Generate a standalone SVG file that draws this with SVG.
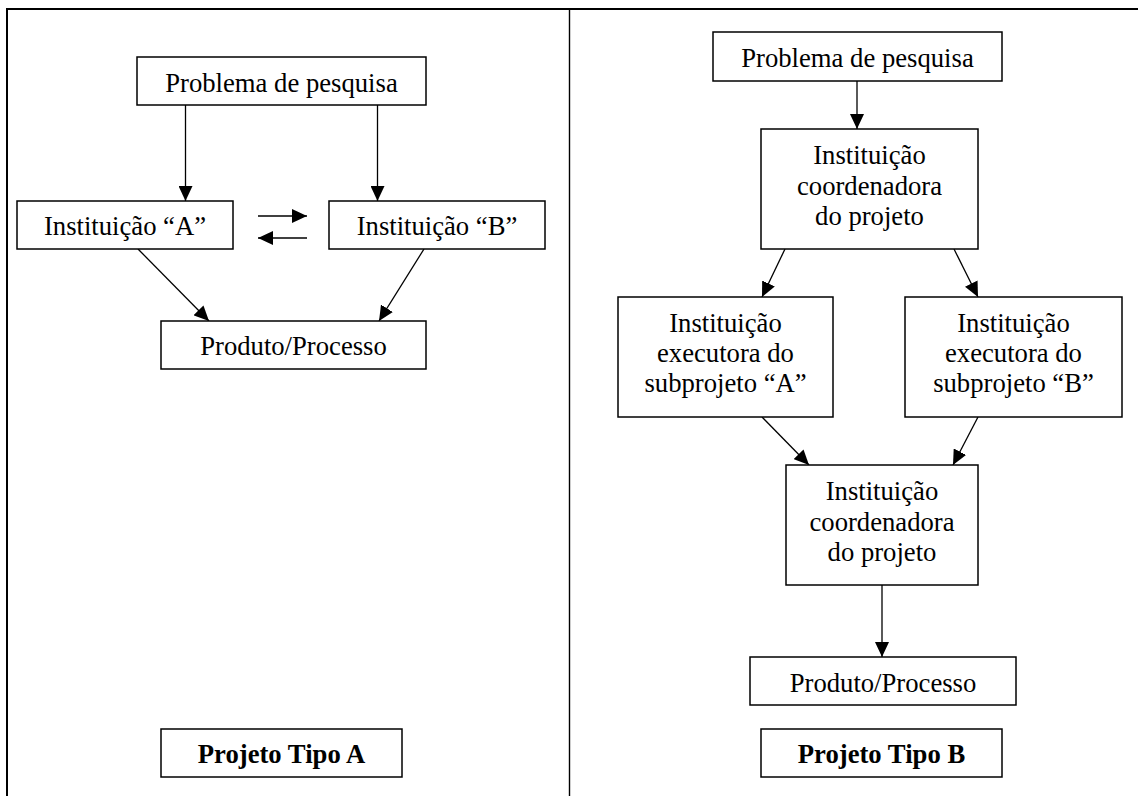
<svg xmlns="http://www.w3.org/2000/svg" width="1138" height="796" viewBox="0 0 1138 796">
<style>
.box{fill:#fff;stroke:#000;stroke-width:1.5}
.t{font-family:"Liberation Serif","Times New Roman",serif;font-size:26.67px;fill:#000;text-anchor:middle}
.b{font-weight:bold}
.c{stroke:#000;stroke-width:1.3;fill:none;marker-end:url(#ah)}
.frame{stroke:#000;fill:none}
</style>
<defs>
<marker id="ah" markerUnits="userSpaceOnUse" markerWidth="15" markerHeight="14" refX="15" refY="7" orient="auto" viewBox="0 0 15 14">
<path d="M0,0 L15,7 L0,14 z" fill="#000"/>
</marker>
</defs>
<rect width="1138" height="796" fill="#fff"/>
<g id="frame">
<line class="frame" x1="6" y1="9" x2="1138" y2="9" stroke-width="2"/>
<line class="frame" x1="7" y1="8" x2="7" y2="796" stroke-width="2"/>
<line class="frame" x1="569.5" y1="9" x2="569.5" y2="796" stroke-width="1.4" stroke="#333"/>
</g>
<g id="connectors">
<line class="c" x1="185.5" y1="105" x2="185.5" y2="201"/>
<line class="c" x1="377.5" y1="105" x2="377.5" y2="201"/>
<line class="c" x1="258" y1="216" x2="307" y2="216"/>
<line class="c" x1="307" y1="238" x2="258" y2="238"/>
<line class="c" x1="138" y1="249" x2="209" y2="321"/>
<line class="c" x1="424" y1="249" x2="379" y2="321"/>
<line class="c" x1="857" y1="81" x2="857" y2="129"/>
<line class="c" x1="785" y1="249" x2="762" y2="297"/>
<line class="c" x1="954" y1="249" x2="978" y2="297"/>
<line class="c" x1="762" y1="417" x2="809" y2="465"/>
<line class="c" x1="978" y1="417" x2="953" y2="465"/>
<line class="c" x1="882" y1="585" x2="882" y2="657"/>
</g>
<g id="problemaA">
<rect class="box" x="137" y="57" width="289" height="48"/>
<text class="t" x="281.5" y="91.5">Problema de pesquisa</text>
</g>
<g id="instA">
<rect class="box" x="17" y="201" width="216" height="48"/>
<text class="t" x="125" y="235">Instituição “A”</text>
</g>
<g id="instB">
<rect class="box" x="329" y="201" width="216" height="48"/>
<text class="t" x="437" y="235">Instituição “B”</text>
</g>
<g id="produtoA">
<rect class="box" x="161" y="321" width="265" height="48"/>
<text class="t" x="293.5" y="355">Produto/Processo</text>
</g>
<g id="tipoA">
<rect class="box" x="161" y="729" width="241" height="48"/>
<text class="t b" x="281.5" y="763">Projeto Tipo A</text>
</g>
<g id="problemaB">
<rect class="box" x="713" y="32" width="289" height="49"/>
<text class="t" x="857.5" y="67">Problema de pesquisa</text>
</g>
<g id="coordTop">
<rect class="box" x="761" y="129" width="217" height="120"/>
<text class="t" x="869.5" y="164">Instituição</text>
<text class="t" x="869.5" y="194.5">coordenadora</text>
<text class="t" x="869.5" y="225">do projeto</text>
</g>
<g id="execA">
<rect class="box" x="618" y="297" width="215" height="120"/>
<text class="t" x="725.5" y="332">Instituição</text>
<text class="t" x="725.5" y="362">executora do</text>
<text class="t" x="725.5" y="392">subprojeto “A”</text>
</g>
<g id="execB">
<rect class="box" x="905" y="297" width="217" height="120"/>
<text class="t" x="1013.5" y="332">Instituição</text>
<text class="t" x="1013.5" y="362">executora do</text>
<text class="t" x="1013.5" y="392">subprojeto “B”</text>
</g>
<g id="coordBottom">
<rect class="box" x="786" y="465" width="192" height="120"/>
<text class="t" x="882" y="500">Instituição</text>
<text class="t" x="882" y="530.5">coordenadora</text>
<text class="t" x="882" y="561">do projeto</text>
</g>
<g id="produtoB">
<rect class="box" x="750" y="657" width="266" height="48"/>
<text class="t" x="883" y="691.5">Produto/Processo</text>
</g>
<g id="tipoB">
<rect class="box" x="761" y="729" width="241" height="48"/>
<text class="t b" x="881.5" y="763">Projeto Tipo B</text>
</g>
</svg>
